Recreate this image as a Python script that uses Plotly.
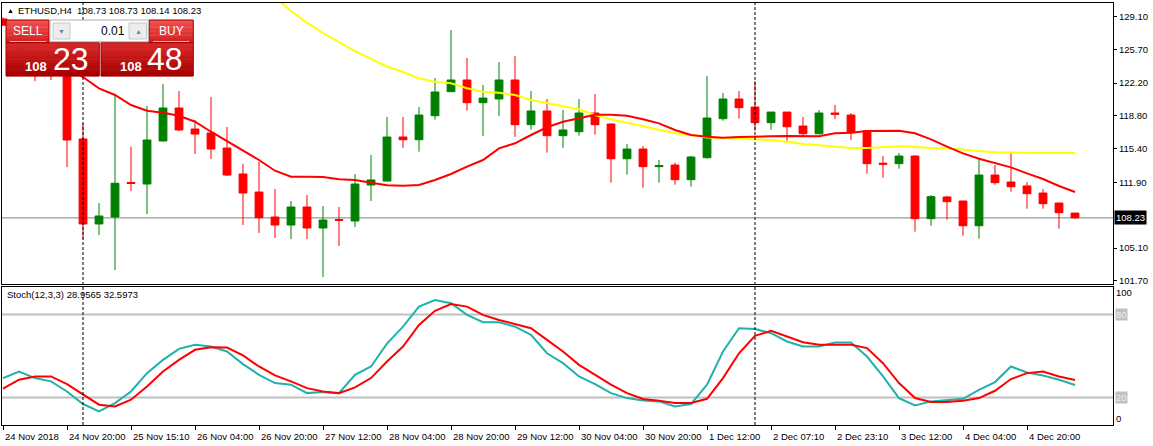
import plotly.graph_objects as go

# ---------------- data ----------------
symbol_line = "ETHUSD,H4  108.73 108.73 108.14 108.23"
stoch_line = "Stoch(12,3,3) 28.9565 32.5973"
bid_big, bid_small = "23", "108"
ask_big, ask_small = "48", "108"
lot = "0.01"
last_price = 108.23

open_ = [128.85, 128.2, 125.4, 123.9, 123.2, 116.41, 107.6, 108.32, 111.9, 111.74,
         116.2, 119.62, 117.44, 117.03, 115.47, 112.78, 110.91, 108.32, 107.49, 109.36,
         107.18, 108.06, 107.91, 111.64, 112.05, 116.61, 116.33, 118.82, 121.31, 122.52,
         120.17, 120.55, 122.52, 117.89, 119.31, 116.75, 117.16, 119.1, 117.96, 114.36,
         115.37, 113.54, 113.71, 112.19, 114.47, 118.51, 120.55, 119.72, 118.1, 119.2,
         117.75, 116.95, 119.1, 118.89, 117.27, 113.9, 113.85, 114.64, 108.15, 110.4,
         109.98, 107.42, 112.67, 111.95, 111.54, 110.81, 109.77, 108.73]
high = [129.0, 128.5, 125.9, 124.6, 123.6, 118.03, 109.77, 120.97, 115.61, 119.83,
        122.1, 121.38, 118.37, 120.76, 117.65, 113.82, 114.02, 111.22, 109.98, 110.6,
        109.46, 109.36, 112.78, 114.75, 118.69, 118.69, 119.72, 122.73, 127.7, 124.8,
        122.0, 124.38, 125.0, 121.38, 120.55, 119.41, 120.55, 121.07, 118.0, 115.89,
        115.68, 114.23, 113.95, 114.67, 122.93, 121.17, 121.38, 122.42, 119.2, 119.2,
        118.69, 119.41, 119.93, 119.1, 117.3, 114.64, 114.95, 114.7, 110.6, 110.53,
        110.0, 114.33, 113.71, 115.06, 111.95, 111.22, 109.8, 108.73]
low = [128.2, 125.0, 122.4, 122.5, 113.5, 106.04, 106.46, 102.83, 111.02, 108.63,
       116.15, 117.23, 114.85, 114.33, 112.57, 107.49, 106.67, 106.15, 106.04, 106.04,
       102.1, 105.32, 107.29, 109.98, 112.0, 115.5, 115.09, 118.41, 121.3, 119.34,
       116.72, 118.79, 116.64, 117.37, 114.99, 115.5, 116.75, 116.85, 111.88, 112.71,
       111.36, 111.88, 111.67, 111.46, 114.36, 118.3, 118.51, 117.27, 117.37, 116.13,
       116.64, 116.9, 118.48, 116.33, 112.81, 112.4, 113.33, 106.8, 107.42, 108.04,
       106.39, 106.07, 111.67, 110.94, 109.18, 109.18, 107.11, 108.14]
close = [128.2, 125.4, 123.9, 123.2, 116.3, 107.6, 108.43, 111.82, 111.8, 116.3,
         119.62, 117.34, 116.92, 115.37, 112.67, 110.81, 108.25, 107.49, 109.36, 107.18,
         108.01, 107.98, 111.74, 112.16, 116.61, 116.33, 118.89, 121.28, 122.52, 120.17,
         120.65, 122.52, 117.89, 119.31, 116.75, 117.34, 119.1, 117.89, 114.36, 115.37,
         113.54, 113.65, 112.19, 114.54, 118.58, 120.55, 119.65, 118.1, 119.2, 117.68,
         116.95, 119.1, 118.97, 117.06, 113.85, 113.8, 114.64, 108.15, 110.43, 109.91,
         107.42, 112.67, 111.88, 111.46, 110.74, 109.7, 108.77, 108.23]

ma_red = [None, None, None, 124.6, 123.76, 122.83, 121.66, 120.97, 119.93, 119.34,
          119.13, 118.82, 118.2, 117.16, 116.2, 115.19, 114.23, 113.12, 112.5, 112.5,
          112.47, 112.23, 112.16, 111.88, 111.61, 111.57, 111.64, 112.16, 112.78, 113.54,
          114.23, 115.44, 115.96, 116.82, 117.62, 118.2, 118.55, 118.92, 118.92, 118.82,
          118.45, 118.03, 117.34, 116.82, 116.64, 116.54, 116.61, 116.62, 116.69, 116.72,
          116.69, 116.69, 117.0, 117.06, 117.23, 117.27, 117.27, 117.0, 116.37, 115.61,
          114.92, 114.36, 113.95, 113.47, 112.85, 112.26, 111.54, 110.91]
ma_yellow = [None] * 16 + [
          132.26, 131.12, 129.67, 128.43,
          127.39, 126.41, 125.52, 124.7, 123.92, 123.35, 122.7, 122.34, 122.18, 121.66,
          121.31, 121.2, 120.97, 120.45, 120.11, 119.75, 119.48, 118.89, 118.45, 118.09,
          117.75, 117.41, 117.0, 116.82, 116.56, 116.51, 116.46, 116.37, 116.3, 116.13,
          115.89, 115.75, 115.61, 115.47, 115.47, 115.55, 115.65, 115.61, 115.47, 115.44,
          115.27, 115.16, 115.03, 114.99, 114.99, 114.99, 114.99, 114.99]

stoch_k = [34, 38.8, 34, 31.6, 24.3, 15.2, 9.9, 15.9, 24.3, 37.6,
           47.2, 55.2, 58.1, 56.9, 53.3, 44.1, 36.4, 30.4, 29.2, 23.1,
           23.9, 23.1, 36.4, 42.4, 59, 71.3, 85.8, 90.6, 88.2, 79.8,
           74.5, 74.5, 71.3, 65.3, 52, 44.8, 35.2, 29.6, 23.1, 19.5,
           17.8, 17.1, 13.5, 15.2, 29.2, 53.3, 70.1, 69.6, 66.5, 60.5,
           56.9, 56.9, 59.8, 59.8, 49.6, 35.2, 19.5, 14.2, 17.1, 18.3,
           19, 25.5, 31.1, 42.4, 38.1, 35.9, 32.8, 28.96]
stoch_d = [26.3, 32.8, 35.2, 35.2, 29.6, 22.4, 14.7, 13.5, 18.3, 27.9,
           38.8, 47.2, 54.5, 56.4, 56.1, 50.4, 42.4, 35.9, 31.6, 26.7,
           24.3, 23.1, 27.2, 34, 46, 56.9, 72.5, 82.7, 87.7, 85.8,
           79.8, 76.1, 73, 70.1, 61.7, 53.3, 43.6, 36.4, 29.2, 23.1,
           18.8, 17.6, 15.9, 15.9, 19, 34, 52, 64.6, 68.2, 64.1,
           60, 58.1, 58.1, 58.1, 55.7, 44.8, 30.4, 19.5, 16.6, 16.6,
           17.6, 19.5, 24.8, 33.3, 37.6, 38.8, 35.2, 32.6]
stoch_levels = [80, 20]

price_ticks = [129.10, 125.70, 122.20, 118.80, 115.40, 111.90, 105.10, 101.70]
date_labels = ["24 Nov 2018", "24 Nov 20:00", "25 Nov 15:10", "26 Nov 04:00", "26 Nov 20:00",
               "27 Nov 12:00", "28 Nov 04:00", "28 Nov 20:00", "29 Nov 12:00", "30 Nov 04:00",
               "30 Nov 20:00", "1 Dec 12:00", "2 Dec 07:10", "2 Dec 23:10", "3 Dec 12:00",
               "4 Dec 04:00", "4 Dec 20:00"]
date_pos = [0, 4, 8, 12, 16, 20, 24, 28, 32, 36, 40, 44, 48, 52, 56, 60, 64]
vlines = [5, 47]

idx = list(range(len(close)))

# ---------------- layout helpers ----------------
W, H = 1153, 446
ML, MR, MT, MB = 2, 40, 3, 21
PW = W - ML - MR
PH = H - MT - MB
FONT = "Liberation Sans, Arial, sans-serif"


def px(X):
    return (X - ML) / PW


def py(Y):
    return (MT + PH - Y) / PH


xr0 = -1 / 16
xr = [xr0, xr0 + PW / 16]

fig = go.Figure()
fig.add_trace(go.Candlestick(
    x=idx, open=open_, high=high, low=low, close=close,
    increasing=dict(line=dict(color="#008000", width=1), fillcolor="#008000"),
    decreasing=dict(line=dict(color="#FF0000", width=1), fillcolor="#FF0000"),
    whiskerwidth=0, xaxis="x", yaxis="y", hoverinfo="skip"))
fig.add_trace(go.Scatter(x=idx, y=ma_yellow, mode="lines", line=dict(color="#FFFF00", width=2),
                         xaxis="x", yaxis="y", hoverinfo="skip"))
fig.add_trace(go.Scatter(x=idx, y=ma_red, mode="lines", line=dict(color="#FF0000", width=2),
                         xaxis="x", yaxis="y", hoverinfo="skip"))
fig.add_trace(go.Scatter(x=idx, y=stoch_k, mode="lines", line=dict(color="#20B2AA", width=2),
                         xaxis="x2", yaxis="y2", hoverinfo="skip"))
fig.add_trace(go.Scatter(x=idx, y=stoch_d, mode="lines", line=dict(color="#FF0000", width=2),
                         xaxis="x2", yaxis="y2", hoverinfo="skip"))

shapes = []
# bid line
shapes.append(dict(type="line", xref="paper", x0=0, x1=1, yref="y", y0=last_price, y1=last_price,
                   line=dict(color="#808080", width=1), layer="below"))
# stoch levels
for lv in stoch_levels:
    shapes.append(dict(type="line", xref="paper", x0=0, x1=1, yref="y2", y0=lv, y1=lv,
                       line=dict(color="#C0C0C0", width=2), layer="below"))
# dashed vertical lines
for v in vlines:
    shapes.append(dict(type="line", xref="x", x0=v, x1=v, yref="paper", y0=0, y1=1,
                       line=dict(color="black", width=1, dash="3px,2px"), layer="above"))


def mix(c1, c2, t):
    return "rgb(%d,%d,%d)" % tuple(round(a + (b - a) * t) for a, b in zip(c1, c2))


def grad_rect(x0, y0, x1, y1, ctop, cbot, n=10, border="#A00000"):
    out = []
    for k in range(n):
        ya = y0 + (y1 - y0) * k / n
        yb = y0 + (y1 - y0) * (k + 1) / n
        out.append(dict(type="rect", xref="paper", yref="paper", x0=px(x0), x1=px(x1),
                        y0=py(yb + 0.3), y1=py(ya), fillcolor=mix(ctop, cbot, k / (n - 1)),
                        line=dict(width=0), layer="above"))
    out.append(dict(type="rect", xref="paper", yref="paper", x0=px(x0), x1=px(x1),
                    y0=py(y1), y1=py(y0), fillcolor="rgba(0,0,0,0)",
                    line=dict(color=border, width=1), layer="above"))
    return out


top_a, top_b = (238, 78, 78), (214, 36, 36)
low_a, low_b = (214, 40, 40), (168, 0, 0)
shapes += grad_rect(6, 20, 49, 42.7, top_a, top_b, n=6)
shapes += grad_rect(149, 20, 193.3, 42.7, top_a, top_b, n=6)
shapes += grad_rect(6, 42.7, 99.3, 76, low_a, low_b)
shapes += grad_rect(101, 42.7, 193.3, 76, low_a, low_b)
# lot box
shapes.append(dict(type="rect", xref="paper", yref="paper", x0=px(50), x1=px(148.3), y0=py(41.7), y1=py(20),
                   fillcolor="white", line=dict(color="#B0B0B0", width=1), layer="above"))
for bx0, bx1 in [(53, 70), (129, 146.5)]:
    shapes.append(dict(type="rect", xref="paper", yref="paper", x0=px(bx0), x1=px(bx1), y0=py(39), y1=py(23),
                       fillcolor="#ECECEC", line=dict(color="#C8C8C8", width=1), layer="above"))
# underline under SELL / BUY
for lx0, lx1 in [(10, 46), (153, 189)]:
    shapes.append(dict(type="line", xref="paper", yref="paper", x0=px(lx0), x1=px(lx1), y0=py(41.5), y1=py(41.5),
                       line=dict(color="#F6A8A8", width=1), layer="above"))

ann = []


def txt(X, Y, s, size=9.5, color="black", xanchor="left", bold=False, **kw):
    ann.append(dict(xref="paper", yref="paper", x=px(X), y=py(Y), text=("<b>%s</b>" % s) if bold else s,
                    showarrow=False, xanchor=xanchor, yanchor="middle",
                    font=dict(family=FONT, size=size, color=color), **kw))


txt(5, 10.5, "▲", size=7)
txt(16, 11, symbol_line)
txt(5, 294.5, stoch_line)
txt(27.5, 31, "SELL", size=12, color="white", xanchor="center")
txt(171, 31, "BUY", size=12, color="white", xanchor="center")
txt(127, 31, lot, size=12, color="black", xanchor="right")
txt(61.5, 31, "▼", size=7, color="#7080B0", xanchor="center")
txt(138, 31, "▲", size=7, color="#7080B0", xanchor="center")
txt(49, 66, bid_small, size=13, color="white", xanchor="right", bold=True)
txt(51, 59, bid_big, size=32, color="white", xanchor="left")
txt(144, 66, ask_small, size=13, color="white", xanchor="right", bold=True)
txt(145, 59, ask_big, size=32, color="white", xanchor="left")

# date labels
for p, lab in zip(date_pos, date_labels):
    ann.append(dict(xref="x", yref="paper", x=p, y=py(436.5), text=lab, showarrow=False,
                    xanchor="left", yanchor="middle", font=dict(family=FONT, size=9.5, color="black")))

# price label (bid)
ann.append(dict(xref="paper", yref="y", x=px(1114), y=last_price, text="%.2f" % last_price, showarrow=False,
                xanchor="left", yanchor="middle", bgcolor="black", borderpad=1,
                font=dict(family=FONT, size=9.5, color="white")))
# stoch axis labels
for v, s, bg, col in [(95.7, "100", None, "black"), (80, "80", "#C0C0C0", "#EEEEEE"),
                      (20, "20", "#C0C0C0", "#EEEEEE"), (4.6, "0", None, "black")]:
    d = dict(xref="paper", yref="y2", x=px(1115), y=v, text=s, showarrow=False, xanchor="left",
             yanchor="middle", font=dict(family=FONT, size=9.5, color=col), borderpad=0)
    if bg:
        d["bgcolor"] = bg
    ann.append(d)

fig.update_layout(
    width=W, height=H, margin=dict(l=ML, r=MR, t=MT, b=MB),
    paper_bgcolor="white", plot_bgcolor="white", showlegend=False, boxgap=0.3,
    hovermode=False,
    shapes=shapes, annotations=ann,
    xaxis=dict(domain=[0, 1], anchor="y", range=xr, showline=True, mirror=True, linecolor="black",
               linewidth=1, showgrid=False, zeroline=False, showticklabels=False, ticks="",
               rangeslider=dict(visible=False)),
    xaxis2=dict(domain=[0, 1], anchor="y2", range=xr, matches="x", showline=True, mirror=True,
                linecolor="black", linewidth=1, showgrid=False, zeroline=False,
                tickvals=date_pos, ticks="outside", ticklen=4, tickcolor="black", showticklabels=False),
    yaxis=dict(domain=[py(284), 1], anchor="x", side="right", range=[101.38, 130.5],
               tickvals=price_ticks, ticktext=["%.2f" % v for v in price_ticks],
               ticks="outside", ticklen=3, tickcolor="black", showline=True, mirror=True,
               linecolor="black", linewidth=1, showgrid=False, zeroline=False,
               tickfont=dict(family=FONT, size=9.5, color="black")),
    yaxis2=dict(domain=[0, py(287)], anchor="x2", side="right", range=[0, 100],
                showticklabels=False, ticks="", showline=True, mirror=True, linecolor="black",
                linewidth=1, showgrid=False, zeroline=False),
)

fig.write_html("out.html", config={"displayModeBar": False},
               post_script="document.body.style.margin='0';document.body.style.overflow='hidden';")
